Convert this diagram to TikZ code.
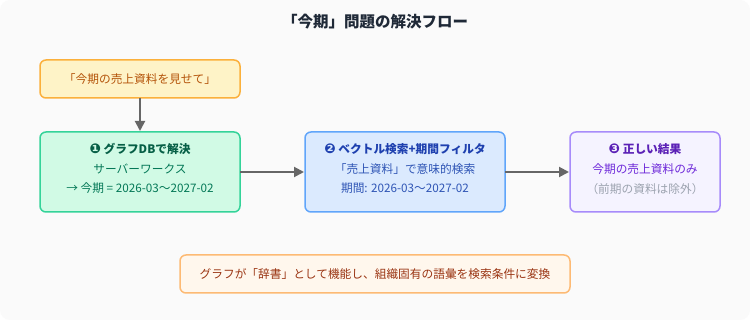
\documentclass[tikz,border=0pt]{standalone}
\usepackage{fontspec}
\setmainfont{Noto Sans CJK JP}
\newfontfamily\dingfont{DejaVu Sans}
\usetikzlibrary{arrows.meta}
\definecolor{bgc}{HTML}{FAFAFA}
\definecolor{titlec}{HTML}{1F2937}
\definecolor{yfill}{HTML}{FEF3C7}
\definecolor{ydraw}{HTML}{FBB03B}
\definecolor{ytext}{HTML}{B45309}
\definecolor{gfill}{HTML}{D1FAE5}
\definecolor{gdraw}{HTML}{34D399}
\definecolor{gtitle}{HTML}{065F46}
\definecolor{gtext}{HTML}{047857}
\definecolor{bfill}{HTML}{DBEAFE}
\definecolor{bdraw}{HTML}{60A5FA}
\definecolor{btitle}{HTML}{1E40AF}
\definecolor{btext}{HTML}{2F55B5}
\definecolor{pfill}{HTML}{F5F3FF}
\definecolor{pdraw}{HTML}{A78BFA}
\definecolor{ptitle}{HTML}{5B21B6}
\definecolor{ptext}{HTML}{6D28D9}
\definecolor{pgray}{HTML}{9CA3AF}
\definecolor{ofill}{HTML}{FFF7ED}
\definecolor{odraw}{HTML}{FDBA74}
\definecolor{otext}{HTML}{9A3412}
\definecolor{arrc}{HTML}{666666}
\newcommand{\dnum}[1]{{\dingfont\fontsize{13.5}{13}\selectfont #1}}
\tikzset{
  boxbase/.style={rounded corners=6pt, line width=1.5pt},
  txt/.style={inner sep=0pt, font=\fontsize{11.7}{13}\selectfont},
  ttl/.style={inner sep=0pt, font=\fontsize{11.7}{13}\selectfont\bfseries},
  conn/.style={draw=arrc, line width=2pt, -{Triangle[length=10pt,width=10pt]}}
}
\begin{document}
\begin{tikzpicture}[x=1pt,y=-1pt]
\useasboundingbox (0,0) rectangle (750,320);
\fill[white] (0,0) rectangle (750,320);
\fill[bgc, rounded corners=10pt] (0,0) rectangle (750,320);

\node[inner sep=0pt, font=\fontsize{15.5}{18}\selectfont\bfseries, text=titlec] (title) at (375,22) {「今期」問題の解決フロー};

% query box
\draw[boxbase, fill=yfill, draw=ydraw] (40,60) rectangle (240,98);
\node[txt, text=ytext] (q) at (140,79) {「今期の売上資料を見せて」};
\coordinate (qb) at (140,98);

% box 1
\draw[boxbase, fill=gfill, draw=gdraw] (40,132) rectangle (240,212);
\node[ttl, text=gtitle] (g1) at (140,149) {\dnum{❶} グラフDBで解決};
\node[txt, text=gtext] (g2) at (140,169) {サーバーワークス};
\node[txt, text=gtext] (g3) at (140,188) {→ 今期 = 2026-03〜2027-02};
\coordinate (gt) at (140,131);
\coordinate (gr) at (240,172);

% box 2
\draw[boxbase, fill=bfill, draw=bdraw] (305,132) rectangle (505,212);
\node[ttl, text=btitle] (b1) at (405,149) {\dnum{❷} ベクトル検索+期間フィルタ};
\node[txt, text=btext] (b2) at (405,169) {「売上資料」で意味的検索};
\node[txt, text=btext] (b3) at (405,188) {期間: 2026-03〜2027-02};
\coordinate (bl) at (304,172);
\coordinate (br) at (505,172);

% box 3
\draw[boxbase, fill=pfill, draw=pdraw] (570,132) rectangle (720,212);
\node[ttl, text=ptitle] (p1) at (645,149) {\dnum{❸} 正しい結果};
\node[txt, text=ptext] (p2) at (645,169) {今期の売上資料のみ};
\node[txt, text=pgray] (p3) at (645,189) {（前期の資料は除外）};
\coordinate (pl) at (569,172);

% bottom note
\draw[boxbase, fill=ofill, draw=odraw] (180,255) rectangle (570,293);
\node[txt, text=otext] (note) at (375,274) {グラフが「辞書」として機能し、組織固有の語彙を検索条件に変換};

\draw[conn] (qb) -- (gt);
\draw[conn] (gr) -- (bl);
\draw[conn] (br) -- (pl);
\end{tikzpicture}
\end{document}
